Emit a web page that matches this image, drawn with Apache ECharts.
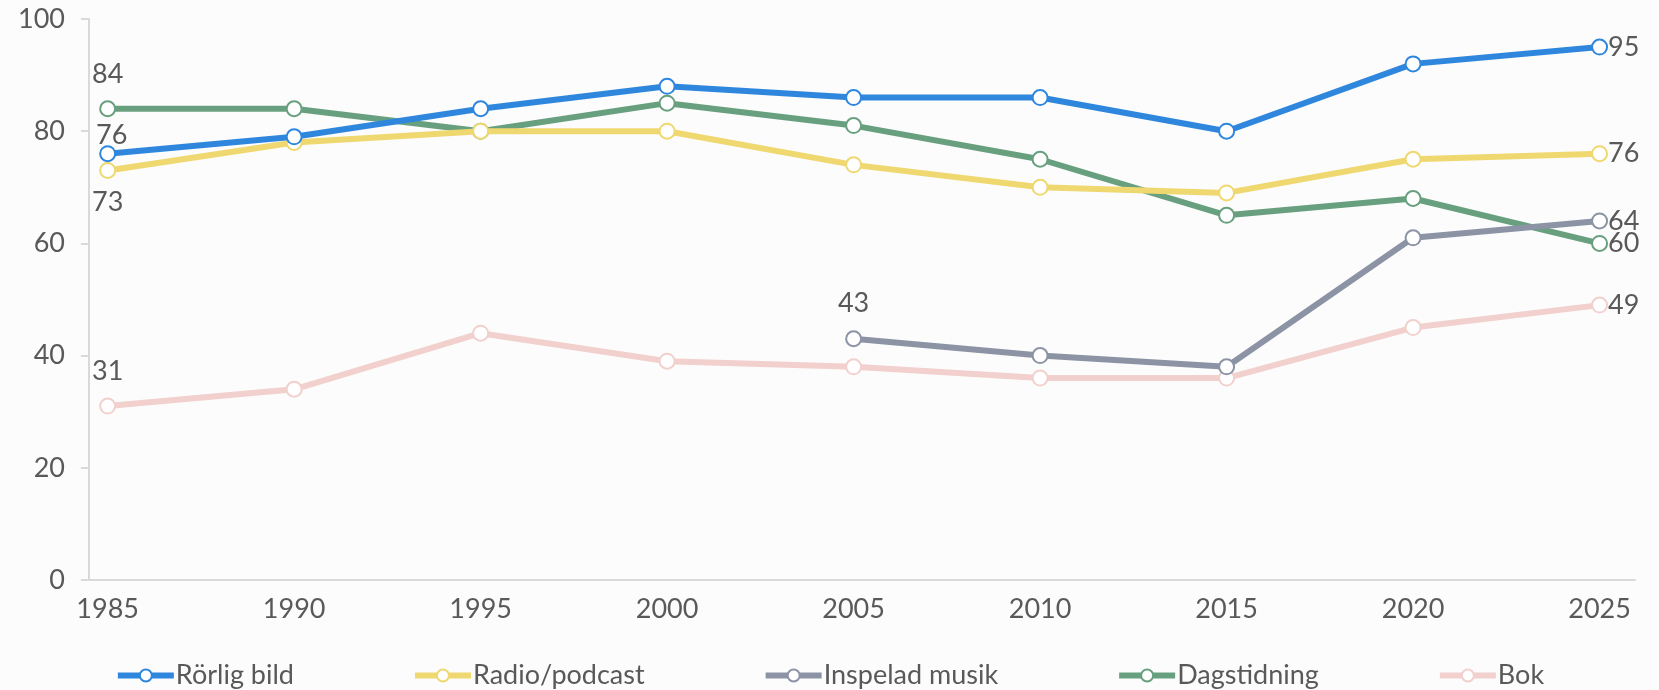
<html>
<head>
    <meta charset="utf-8">
    <title>Mediaanvändning</title>
    <script src="https://cdn.jsdelivr.net/npm/echarts@6/dist/echarts.min.js"></script>
    <style>
        html, body { margin: 0; padding: 0; background: #fcfcfc; }
        #chart { width: 1659px; height: 690px; }
    </style>
</head>
<body>
<div id="chart"></div>
<script>
    // år på x-axeln
    var years = [1985, 1990, 1995, 2000, 2005, 2010, 2015, 2020, 2025];
    var yTicks = [0, 20, 40, 60, 80, 100];

    // serier
    var rorligBild = [76, 79, 84, 88, 86, 86, 80, 92, 95];
    var radioPodcast = [73, 78, 80, 80, 74, 70, 69, 75, 76];
    var inspeladMusik = [null, null, null, null, 43, 40, 38, 61, 64];
    var dagstidning = [84, 84, 80, 85, 81, 75, 65, 68, 60];
    var bok = [31, 34, 44, 39, 38, 36, 36, 45, 49];

    var names = ['Rörlig bild', 'Radio/podcast', 'Inspelad musik', 'Dagstidning', 'Bok'];
    var colors = ['#2f87dd', '#efd870', '#8b93a4', '#68a07f', '#f1d0cd'];
    var values = [rorligBild, radioPodcast, inspeladMusik, dagstidning, bok];
    // var första etiketten hamnar: över eller under punkten
    var firstLabelPos = [[4, -18], [0, 32], [0, -35], [0, -34], [0, -35]];

    var font = 'Lato, "Noto Sans", sans-serif';
    var textColor = '#595959';

    function buildData(arr, idx) {
        var out = [];
        var first = -1, last = -1;
        for (var i = 0; i < arr.length; i++) {
            if (arr[i] != null) {
                if (first < 0) first = i;
                last = i;
            }
        }
        for (var i = 0; i < arr.length; i++) {
            if (arr[i] == null) continue;
            var item = { value: [years[i], arr[i]] };
            if (i === first) {
                item.label = {
                    show: true,
                    position: 'inside',
                    offset: firstLabelPos[idx]
                };
            } else if (i === last) {
                item.label = {
                    show: true,
                    position: 'right',
                    distance: 0
                };
            }
            out.push(item);
        }
        return out;
    }

    var series = [];
    for (var k = 0; k < names.length; k++) {
        series.push({
            name: names[k],
            type: 'line',
            data: buildData(values[k], k),
            symbol: 'circle',
            symbolSize: 15,
            color: colors[k],
            lineStyle: { width: 6, color: colors[k] },
            itemStyle: { color: '#ffffff', borderColor: colors[k], borderWidth: 2 },
            label: {
                show: false,
                color: textColor,
                fontSize: 27,
                fontFamily: font,
                formatter: function (p) { return p.value[1]; }
            },
            emphasis: { disabled: true },
            z: 10 - k
        });
    }

    var option = {
        backgroundColor: '#fcfcfc',
        animation: false,
        textStyle: { fontFamily: font },
        grid: { left: 89, right: 24, top: 19, bottom: 110 },
        legend: {
            data: names,
            left: 'center',
            top: 657,
            itemWidth: 56,
            itemHeight: 15,
            itemGap: 118,
            lineStyle: { width: 6 },
            textStyle: { color: textColor, fontSize: 27, fontFamily: font, padding: [0, 0, 0, -3] }
        },
        xAxis: {
            type: 'value',
            min: 1984.5,
            max: 2025.95,
            axisLine: { show: true, lineStyle: { color: '#d9d9d9', width: 2 } },
            axisTick: { show: false },
            splitLine: { show: false },
            axisLabel: {
                customValues: years,
                color: textColor,
                fontSize: 27,
                fontFamily: font,
                margin: 16,
                formatter: function (v) { return String(v); }
            }
        },
        yAxis: {
            type: 'value',
            min: 0,
            max: 100,
            interval: 20,
            axisLine: { show: true, lineStyle: { color: '#d9d9d9', width: 2 } },
            axisTick: { show: true, length: 8, lineStyle: { color: '#d9d9d9', width: 2 } },
            splitLine: { show: false },
            axisLabel: {
                color: textColor,
                fontSize: 27,
                fontFamily: font,
                margin: 24
            }
        },
        series: series
    };

    var chart = echarts.init(document.getElementById('chart'));
    chart.setOption(option);
</script>
</body>
</html>
